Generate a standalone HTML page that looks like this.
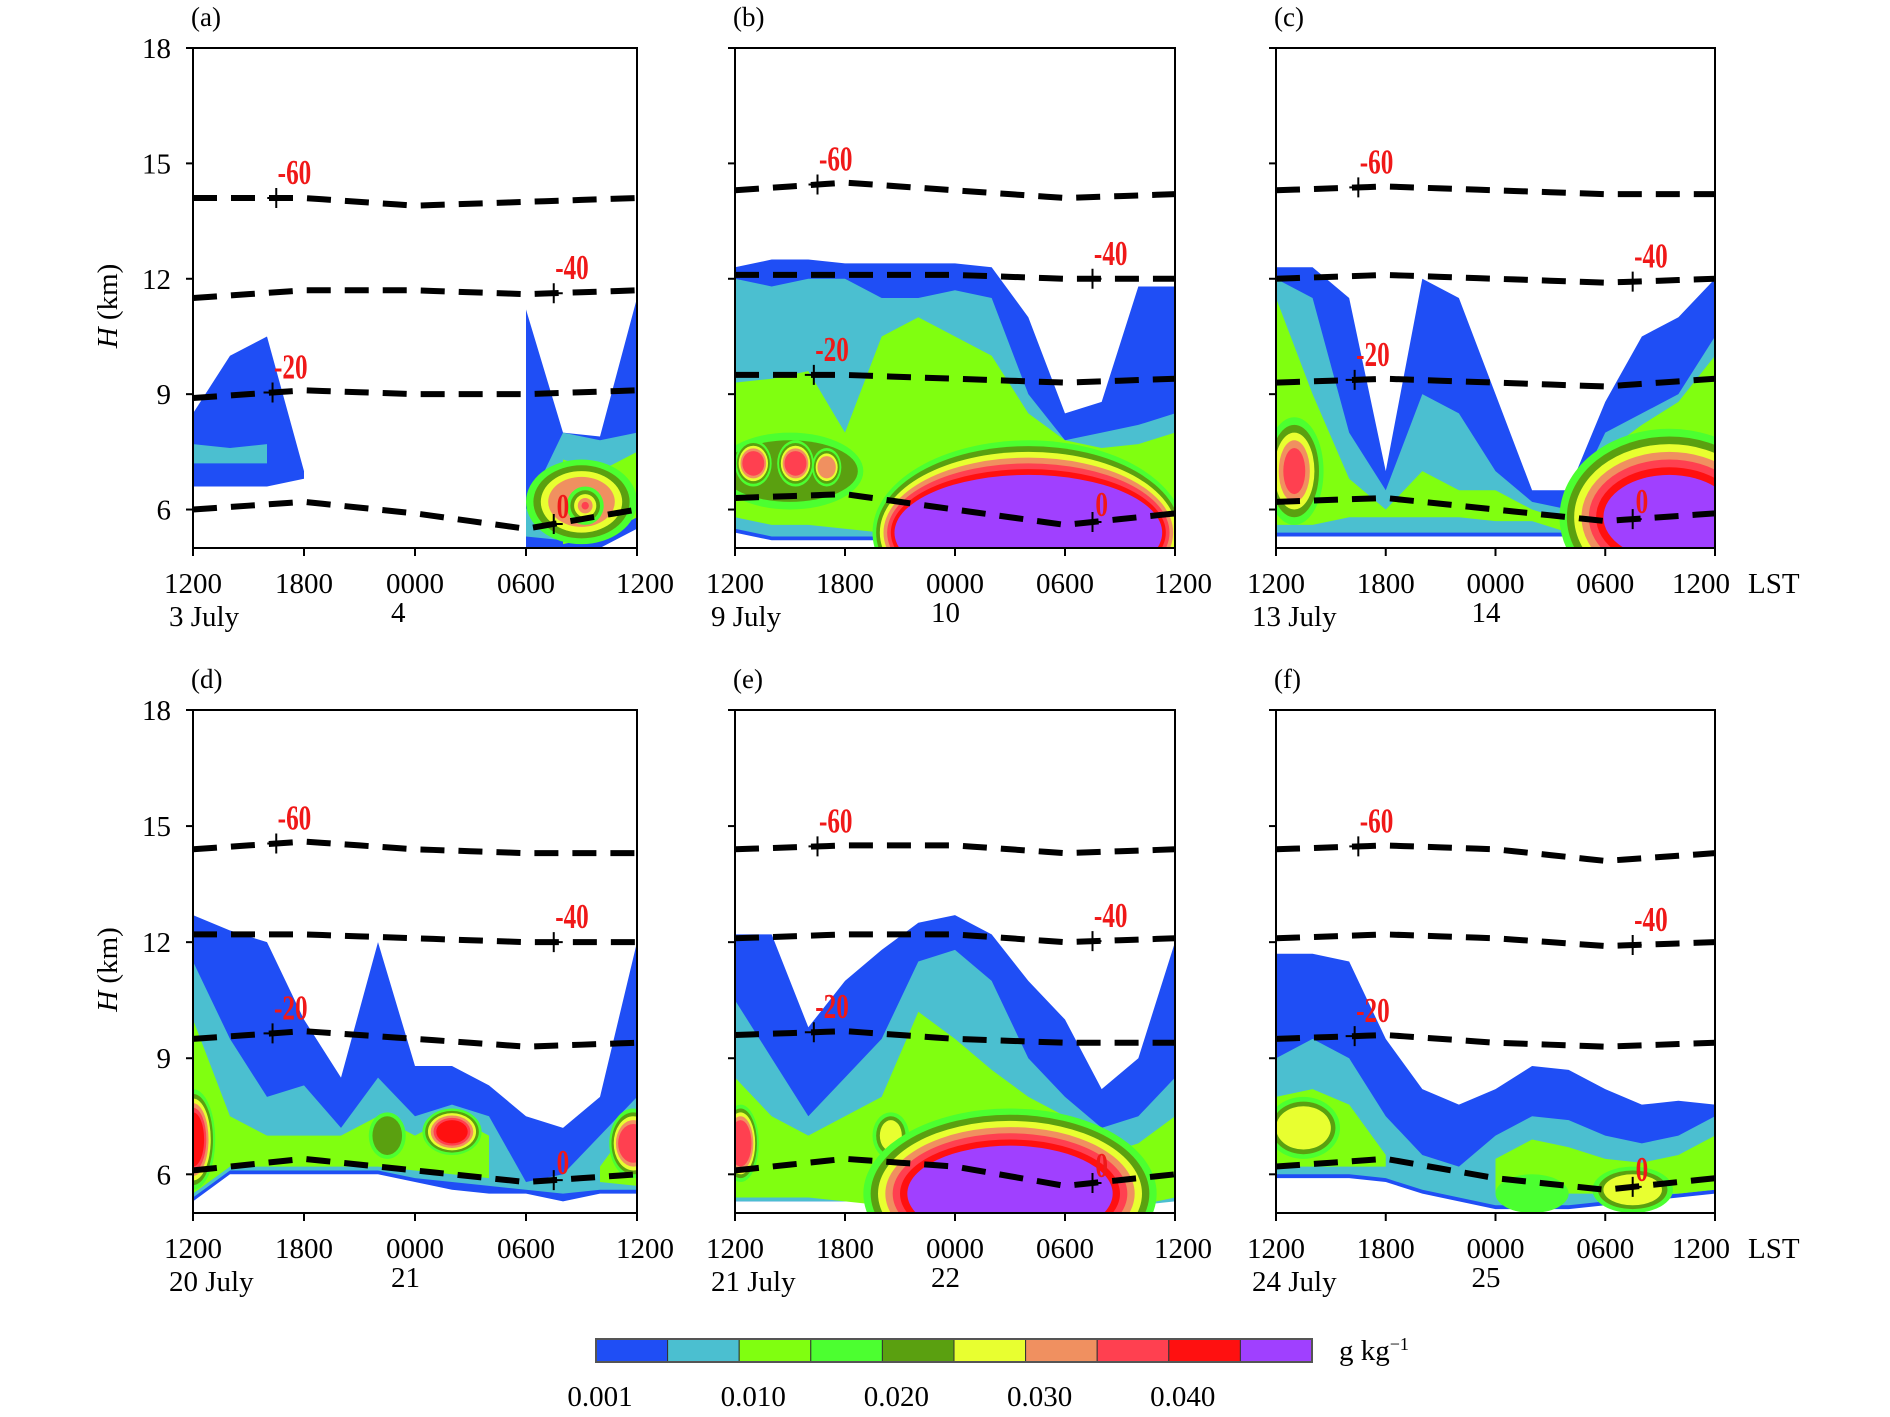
<!DOCTYPE html>
<html><head><meta charset="utf-8"><style>
html,body{margin:0;padding:0;background:#fff;}
svg{display:block;font-family:"Liberation Serif",serif;}
</style></head><body>
<svg id="fig" width="1890" height="1417" viewBox="0 0 1890 1417" xmlns="http://www.w3.org/2000/svg">
<defs id="defs"></defs>
<g id="root"></g>
</svg>
<script>
// ---- data ----
const levelColors = ["#1f4ef5","#4bbfd0","#80ff10","#4cff30","#5aa010","#e8ff30","#f09060","#ff4050","#ff1010","#a040ff"];
const colorbarLabels = ["0.001","0.010","0.020","0.030","0.040"];
const xTickLabels = ["1200","1800","0000","0600","1200"];
const yTicks = [6,9,12,15,18];
const sampleHours = [0,2,4,6,8,10,12,14,16,18,20,22,24];
const isoHours = [0,6,12,18,24];
const isoNames = ["-60","-40","-20","0"];
const panelLetters = ["(a)","(b)","(c)","(d)","(e)","(f)"];
const panelDates = [["3 July","4"],["9 July","10"],["13 July","14"],["20 July","21"],["21 July","22"],["24 July","25"]];
const N = null;
const bandsA = [
 [0,[8.5,10,10.5,7,N,N,N,N,N,11.2,8,7.9,11.5],[6.6,6.6,6.6,6.8,N,N,N,N,N,5,5,5,5.5]],
 [1,[7.7,7.6,7.7,N,N,N,N,N,N,6,8,7.8,8],[7.2,7.2,7.2,N,N,N,N,N,N,5.3,5.2,5.3,5.8]],
 [2,[N,N,N,N,N,N,N,N,N,N,7.3,7.0,7.5],[N,N,N,N,N,N,N,N,N,N,5.1,5.3,5.8]]];
const bandsB = [
 [0,[12.3,12.5,12.5,12.4,12.4,12.4,12.4,12.3,11,8.5,8.8,11.8,11.8],[5.4,5.2,5.2,5.2,5.2,5.2,5.2,5.2,5.2,5.2,5.2,5.2,5.2]],
 [1,[12,11.8,12,12,11.5,11.5,11.7,11.5,9,7.8,8,8.2,8.5],[5.5,5.3,5.3,5.3,5.3,5.3,5.2,5.2,5.2,5.2,5.2,5.2,5.3]],
 [2,[9.3,9.4,9.6,8,10.5,11,10.5,10,8.5,7.8,7.6,7.7,8],[5.8,5.6,5.6,5.5,5.4,5.2,5.1,5.1,5.1,5.1,5.1,5.2,5.4]]];
const bandsC = [
 [0,[12.3,12.3,11.5,7,12,11.5,9,6.5,6.5,8.8,10.5,11,12],[5.3,5.3,5.3,5.3,5.3,5.3,5.3,5.3,5.3,5.3,5.3,5.3,5.3]],
 [1,[12,11.5,8,6.5,9,8.5,7,6.2,6,8,8.5,9,10.5],[5.4,5.4,5.4,5.4,5.4,5.4,5.4,5.4,5.4,5.4,5.4,5.4,5.4]],
 [2,[11.5,9,6.8,6,7,6.5,6.5,6,5.7,7.5,8.2,8.8,10],[5.6,5.6,5.8,5.8,5.8,5.8,5.7,5.7,5.4,5.3,5.3,5.3,5.4]]];
const bandsD = [
 [0,[12.7,12.3,12,10,8.5,12,8.8,8.8,8.3,7.5,7.2,8,12],[5.3,6,6,6,6,6,5.8,5.6,5.5,5.5,5.3,5.5,5.5]],
 [1,[11.5,9.5,8,8.3,7.2,8.5,7.5,7.8,7.5,5.8,6,7,8],[5.4,6.1,6.1,6.1,6.1,6.1,5.9,5.8,5.7,5.6,5.5,5.6,5.6]],
 [2,[10,7.5,7,7,7,7.5,7,7.5,7,N,N,6.2,7.5],[5.5,6.2,6.2,6.2,6.2,6.2,6.1,6.0,5.9,N,N,5.8,5.7]]];
const bandsE = [
 [0,[12.2,12.2,9.8,11,11.8,12.5,12.7,12.2,11,10,8.2,9,12],[5.3,5.3,5.3,5.3,5.3,5.3,5.2,5.2,5.2,5.2,5.2,5.3,5.3]],
 [1,[10.5,9,7.5,8.5,9.5,11.5,11.8,11,9,8,7.2,7.5,8.5],[5.3,5.3,5.3,5.3,5.3,5.2,5.1,5.1,5.1,5.1,5.1,5.2,5.3]],
 [2,[8.5,7.5,7,7.5,8,10.2,9.5,8.7,8,7.5,6.5,6.8,7.5],[5.4,5.4,5.4,5.3,5.2,5.1,5.0,5.0,5.0,5.0,5.0,5.2,5.4]]];
const bandsF = [
 [0,[11.7,11.7,11.5,9.5,8.2,7.8,8.2,8.8,8.7,8.2,7.8,7.9,7.8],[5.9,5.9,5.9,5.8,5.5,5.3,5.1,5.1,5.1,5.2,5.3,5.4,5.5]],
 [1,[9,9.5,9,7.5,6.5,6.2,7,7.5,7.4,7,6.8,7,7.5],[6,6,6,5.9,5.6,5.4,5.2,5.2,5.2,5.3,5.4,5.5,5.6]],
 [2,[8,8.2,7.8,6.5,N,N,6.4,6.9,6.7,6.4,6.3,6.5,7],[6.2,6.2,6.2,6.2,N,N,5.5,5.5,5.5,5.5,5.5,5.5,5.6]]];
const blobsA = [[21,6.2,3.0,1.1,6,0.15,0.4],[21.2,6.1,1.0,0.5,7,0.1,0.2]];
const blobsB = [[3,7,4,1,4,0.2,0.3],[1,7.2,1,0.6,7,0.07,0.1],[3.3,7.2,1,0.6,7,0.07,0.1],[5,7.1,0.8,0.5,6,0.07,0.1],[16,5.4,8.5,2.4,9,0.15,0.2]];
const blobsC = [[1,7,1.6,1.4,7,0.2,0.25],[21.5,5.8,6,2.3,9,0.2,0.4]];
const blobsD = [[0,6.9,1.2,1.3,8,0.12,0.12],[14,7.1,1.6,0.6,8,0.06,0.15],[23.8,6.8,1.3,0.9,7,0.1,0.12],[10.5,7,1,0.6,4,0.1,0.2]];
const blobsE = [[0.3,6.8,1,1,7,0.1,0.1],[8.5,7,1,0.6,5,0.1,0.2],[15,5.5,8,2.2,9,0.16,0.4]];
const blobsF = [[1.5,7.2,2,0.8,5,0.12,0.25],[19.5,5.6,2.2,0.6,5,0.1,0.3],[14,5.5,2,0.5,3,0.1,0.2]];
const isoA = [[14.1,14.1,13.9,14.0,14.1],[11.5,11.7,11.7,11.6,11.7],[8.9,9.1,9.0,9.0,9.1],[6.0,6.2,5.9,5.5,6.0]];
const isoB = [[14.3,14.5,14.3,14.1,14.2],[12.1,12.1,12.1,12.0,12.0],[9.5,9.5,9.4,9.3,9.4],[6.3,6.4,6.0,5.6,5.9]];
const isoC = [[14.3,14.4,14.3,14.2,14.2],[12.0,12.1,12.0,11.9,12.0],[9.3,9.4,9.3,9.2,9.4],[6.2,6.3,6.0,5.7,5.9]];
const isoD = [[14.4,14.6,14.4,14.3,14.3],[12.2,12.2,12.1,12.0,12.0],[9.5,9.7,9.5,9.3,9.4],[6.1,6.4,6.1,5.8,6.0]];
const isoE = [[14.4,14.5,14.5,14.3,14.4],[12.1,12.2,12.2,12.0,12.1],[9.6,9.7,9.5,9.4,9.4],[6.1,6.4,6.2,5.7,6.0]];
const isoF = [[14.4,14.5,14.4,14.1,14.3],[12.1,12.2,12.1,11.9,12.0],[9.5,9.6,9.4,9.3,9.4],[6.2,6.4,5.9,5.6,5.9]];
const crossHours = [4.5,19.5,4.3,19.5];

// ---- layout ----
const NS="http://www.w3.org/2000/svg";
const root=document.getElementById('root');
const defs=document.getElementById('defs');
const panels=[
 {x0:193,x1:637,y0:48,y1:548,bands:bandsA,blobs:blobsA,iso:isoA},
 {x0:735,x1:1175,y0:48,y1:548,bands:bandsB,blobs:blobsB,iso:isoB},
 {x0:1276,x1:1715,y0:48,y1:548,bands:bandsC,blobs:blobsC,iso:isoC},
 {x0:193,x1:637,y0:710,y1:1213,bands:bandsD,blobs:blobsD,iso:isoD},
 {x0:735,x1:1175,y0:710,y1:1213,bands:bandsE,blobs:blobsE,iso:isoE},
 {x0:1276,x1:1715,y0:710,y1:1213,bands:bandsF,blobs:blobsF,iso:isoF}];
function mk(tag,attrs,parent){const e=document.createElementNS(NS,tag);for(const k in attrs)e.setAttribute(k,attrs[k]);(parent||root).appendChild(e);return e;}
function interp(xs,ys,x){for(let i=0;i<xs.length-1;i++){if(x>=xs[i]&&x<=xs[i+1]){const f=(x-xs[i])/(xs[i+1]-xs[i]);return ys[i]+f*(ys[i+1]-ys[i]);}}return ys[ys.length-1];}

panels.forEach((p,pi)=>{
 const X=t=>p.x0+(t/24)*(p.x1-p.x0);
 const Y=h=>p.y1-((h-5)/13)*(p.y1-p.y0);
 const g=mk('g',{});
 
 
 const cp=mk('clipPath',{id:'cp'+pi},defs);
 mk('rect',{x:p.x0,y:p.y0,width:p.x1-p.x0,height:p.y1-p.y0},cp);
 const field=mk('g',{'clip-path':'url(#cp'+pi+')'},g);
 
 
 p.bands.forEach(b=>{
  const lvl=b[0],top=b[1],bot=b[2];
  let seg=[];
  const flush=()=>{ if(seg.length>1){
    const pts=seg.map(i=>X(sampleHours[i])+','+Y(top[i])).concat(seg.slice().reverse().map(i=>X(sampleHours[i])+','+Y(bot[i])));
    const poly=mk('polygon',{points:pts.join(' '),fill:levelColors[lvl]},field);
    
    
   } seg=[]; };
  for(let i=0;i<top.length;i++){ if(top[i]===null){flush();} else seg.push(i); }
  flush();
 });
 p.blobs.forEach(bl=>{
  const [t,h,rt,rh,maxL,dh,dt]=bl;
  for(let L=3;L<=maxL;L++){
   const k=L-3, ry=rh-k*dh, rx=rt-k*dt;
   if(ry<=0||rx<=0) continue;
   const e=mk('ellipse',{cx:X(t),cy:Y(h),rx:Math.abs(X(rx)-X(0)),ry:Math.abs(Y(5)-Y(5+ry)),fill:levelColors[L]},field);
   
   
  }
 });
 p.iso.forEach((hs,ii)=>{
  const pts=[];for(let t=0;t<=24;t+=1)pts.push(X(t)+','+Y(interp(isoHours,hs,t)));
  const pl=mk('polyline',{points:pts.join(' '),fill:'none',stroke:'#000','stroke-width':6,'stroke-dasharray':'24 14'},field);
  
  
  const ct=crossHours[ii], ch=interp(isoHours,hs,ct), cx=X(ct), cy=Y(ch);
  mk('path',{d:`M${cx-9},${cy}H${cx+9}M${cx},${cy-10}V${cy+10}`,stroke:'#000','stroke-width':2},g);
  const lab=mk('text',{x:cx+(ii===3?4:2),y:cy-(ii===3?6:14),fill:'#f01818','font-size':35,'font-weight':'bold',transform:`translate(${cx} ${cy}) scale(0.72 1) translate(${-cx} ${-cy})`},g);
  
  
  lab.textContent=isoNames[ii];
 });
 const fr=mk('rect',{x:p.x0,y:p.y0,width:p.x1-p.x0,height:p.y1-p.y0,fill:'none',stroke:'#000','stroke-width':2},g);
 
 
 yTicks.forEach(v=>{
  mk('line',{x1:p.x0-7,x2:p.x0,y1:Y(v),y2:Y(v),stroke:'#000','stroke-width':2},g);
  if(pi%3===0){const tx=mk('text',{x:p.x0-22,y:Y(v)+10,'text-anchor':'end','font-size':29},g);
   
   
   tx.textContent=v;}
 });
 xTickLabels.forEach((s,i)=>{
  const xx=X(i*6);
  mk('line',{x1:xx,x2:xx,y1:p.y1,y2:p.y1+8,stroke:'#000','stroke-width':2},g);
  const shift = i===4 ? (pi%3===2 ? -14 : 8) : 0;
  const tx=mk('text',{x:xx+shift,y:p.y1+45,'text-anchor':'middle','font-size':29},g);
  
  
  tx.textContent=s;
 });
 const d1=mk('text',{x:p.x0-24,y:p.y1+78,'font-size':29},g);
 
 
 d1.textContent=panelDates[pi][0];
 const d2=mk('text',{x:X(12)-24,y:p.y1+74,'font-size':29},g);
 
 
 d2.textContent=panelDates[pi][1];
 const pl=mk('text',{x:p.x0-2,y:p.y0-22,'font-size':27},g);
 
 
 pl.textContent=panelLetters[pi];
 if(pi%3===0){
  const yl=mk('text',{x:0,y:0,'font-size':29,transform:`translate(117 ${(p.y0+p.y1)/2+8}) rotate(-90)`,'text-anchor':'middle'},g);
  
  
  yl.innerHTML='<tspan font-style="italic">H</tspan> (km)';
 }
 if(pi%3===2){
  const ls=mk('text',{x:1748,y:p.y1+45,'font-size':29},g);
  
  
  ls.textContent='LST';
 }
});

// colorbar
const cb=mk('g',{});


const cbX0=596,cbX1=1312,cbY=1339,cbH=23,bw=(cbX1-cbX0)/levelColors.length;
levelColors.forEach((c,i)=>{
 const r=mk('rect',{x:cbX0+i*bw,y:cbY,width:bw,height:cbH,fill:c,stroke:'#333','stroke-width':1},cb);
 
 
});
mk('rect',{x:cbX0,y:cbY,width:cbX1-cbX0,height:cbH,fill:'none',stroke:'#555','stroke-width':2},cb);
colorbarLabels.forEach((s,i)=>{
 const t=mk('text',{x:cbX0+i*2*bw+(i===0?4:14),y:1406,'text-anchor':'middle','font-size':29},cb);
 
 
 t.textContent=s;
});
const un=mk('text',{x:1339,y:1360,'font-size':29},cb);


un.innerHTML='g kg<tspan dy="-10" font-size="18">−1</tspan>';
</script>
</body></html>
